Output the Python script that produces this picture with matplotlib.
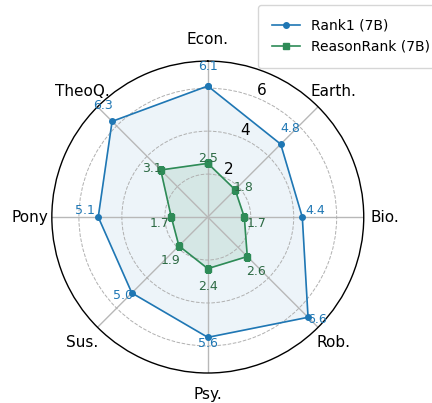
import matplotlib

matplotlib.use("Agg")
import matplotlib.pyplot as plt
import numpy as np

categories = ["Econ.", "Earth.", "Bio.", "Rob.", "Psy.", "Sus.", "Pony", "TheoQ."]
rank1 = [6.1, 4.8, 4.4, 6.6, 5.6, 5.0, 5.1, 6.3]
reasonrank = [2.5, 1.8, 1.7, 2.6, 2.4, 1.9, 1.7, 3.1]
rticks = [2, 4, 6]

blue = "#1f77b4"
green = "#2e8b57"

angles = np.linspace(0, 2 * np.pi, len(categories), endpoint=False)
closed = np.append(angles, angles[0])

fig = plt.figure(figsize=(4.32, 4.03), dpi=100)
ax = fig.add_axes([0.120, 0.0744, 0.722, 0.774], projection="polar")
ax.set_theta_offset(np.pi / 2)
ax.set_theta_direction(-1)

r1 = np.append(rank1, rank1[0])
r2 = np.append(reasonrank, reasonrank[0])
ax.plot(closed, r1, color=blue, linewidth=1.2, marker="o", markersize=4, label="Rank1 (7B)")
ax.fill(closed, r1, color=blue, alpha=0.08)
ax.plot(closed, r2, color=green, linewidth=1.2, marker="s", markersize=4, label="ReasonRank (7B)")
ax.fill(closed, r2, color=green, alpha=0.12)

for a, v in zip(angles, rank1):
    ax.text(a, v + 0.6, f"{v:.1f}", color=blue, fontsize=9, ha="center", va="bottom")
for a, v in zip(angles, reasonrank):
    ax.text(a, v + 0.55, f"{v:.1f}", color="#2d6a44", fontsize=9, ha="center", va="top")

ax.set_xticks(angles)
ax.set_xticklabels(categories, fontsize=11)
ax.tick_params(axis="x", pad=5)
ax.set_ylim(0, max(rank1) * 1.1)
ax.set_yticks(rticks)
ax.set_yticklabels([str(t) for t in rticks], fontsize=11)
ax.set_rlabel_position(22.5)
ax.xaxis.grid(True, color="#b8b8b8", linestyle="-", linewidth=1.0)
ax.yaxis.grid(True, color="#b0b0b0", linestyle="--", linewidth=0.7)
ax.spines["polar"].set_linewidth(1.0)

ax.legend(loc="upper left", bbox_to_anchor=(258 / 432, 1 - 5 / 403), bbox_transform=fig.transFigure,
          fontsize=10, borderpad=1.0, labelspacing=0.5, borderaxespad=0)

fig.savefig("out.png")
